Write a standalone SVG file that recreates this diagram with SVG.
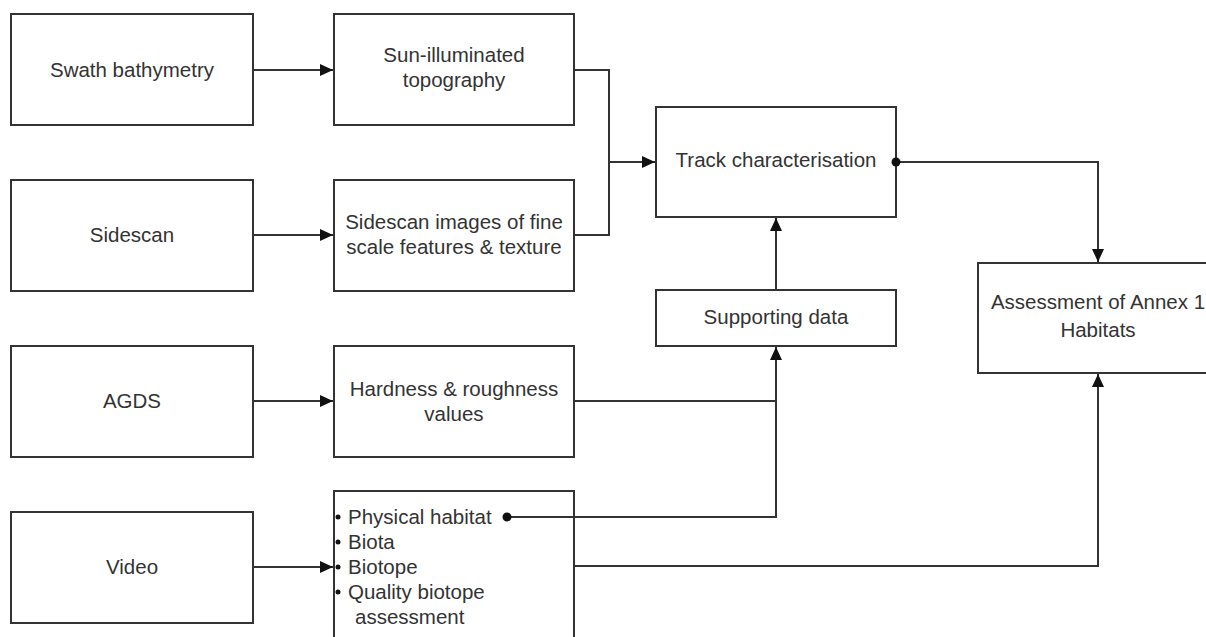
<svg xmlns="http://www.w3.org/2000/svg" width="1206" height="637" viewBox="0 0 1206 637">
<style>
.box{fill:#fff;stroke:#333;stroke-width:2}
.ln{fill:none;stroke:#333;stroke-width:2}
text{font-family:"Liberation Sans",Arial,sans-serif;font-size:20.5px;fill:#333}
.c{text-anchor:middle}
</style>
<defs>
<marker id="ar" markerUnits="userSpaceOnUse" markerWidth="14" markerHeight="12" refX="13" refY="6" orient="auto">
<path d="M0,0 L13,6 L0,12 Z" fill="#111"/>
</marker>
</defs>
<rect width="1206" height="637" fill="#fff"/>
<g id="swath"><rect class="box" x="11" y="14" width="242" height="111"/><text class="c" x="132" y="77">Swath bathymetry</text></g>
<g id="sun"><rect class="box" x="334" y="14" width="240" height="111"/><text class="c" x="454" y="62">Sun-illuminated</text><text class="c" x="454" y="87">topography</text></g>
<g id="sidescan"><rect class="box" x="11" y="180" width="242" height="111"/><text class="c" x="132" y="242">Sidescan</text></g>
<g id="sidescan-img"><rect class="box" x="334" y="180" width="240" height="111"/><text class="c" x="454" y="229">Sidescan images of fine</text><text class="c" x="454" y="254">scale features &amp; texture</text></g>
<g id="agds"><rect class="box" x="11" y="346" width="242" height="111"/><text class="c" x="132" y="408">AGDS</text></g>
<g id="hardness"><rect class="box" x="334" y="346" width="240" height="111"/><text class="c" x="454" y="396">Hardness &amp; roughness</text><text class="c" x="454" y="421">values</text></g>
<g id="video"><rect class="box" x="11" y="512" width="242" height="111"/><text class="c" x="132" y="574">Video</text></g>
<g id="video-data"><rect class="box" x="334" y="491" width="240" height="160"/>
<circle cx="338" cy="517" r="2.5" fill="#111"/><circle cx="338" cy="542" r="2.5" fill="#111"/><circle cx="338" cy="567" r="2.5" fill="#111"/><circle cx="338" cy="592" r="2.5" fill="#111"/>
<text x="348" y="524">Physical habitat</text><text x="348" y="549">Biota</text><text x="348" y="574">Biotope</text><text x="348" y="599">Quality biotope</text><text x="355" y="624">assessment</text></g>
<g id="track"><rect class="box" x="656" y="107" width="240" height="110"/><text class="c" x="776" y="167">Track characterisation</text></g>
<g id="supporting"><rect class="box" x="656" y="290" width="240" height="56"/><text class="c" x="776" y="324">Supporting data</text></g>
<g id="assessment"><rect class="box" x="978" y="263" width="240" height="110"/><text class="c" x="1098" y="309">Assessment of Annex 1</text><text class="c" x="1098" y="337">Habitats</text></g>
<g id="connectors">
<path class="ln" d="M253,70 H333" marker-end="url(#ar)"/>
<path class="ln" d="M253,235 H333" marker-end="url(#ar)"/>
<path class="ln" d="M253,401 H333" marker-end="url(#ar)"/>
<path class="ln" d="M253,567 H333" marker-end="url(#ar)"/>
<path class="ln" d="M574,70 H609 V235 H574"/>
<path class="ln" d="M609,162 H655" marker-end="url(#ar)"/>
<path class="ln" d="M776,290 V218" marker-end="url(#ar)"/>
<path class="ln" d="M574,401 H776 V347" marker-end="url(#ar)"/>
<path class="ln" d="M507,517 H776 V401"/>
<path class="ln" d="M896,162 H1098 V262" marker-end="url(#ar)"/>
<path class="ln" d="M574,566 H1098 V374" marker-end="url(#ar)"/>
<circle cx="896" cy="162" r="4.5" fill="#111"/>
<circle cx="507" cy="517" r="4.5" fill="#111"/>
</g>
</svg>
